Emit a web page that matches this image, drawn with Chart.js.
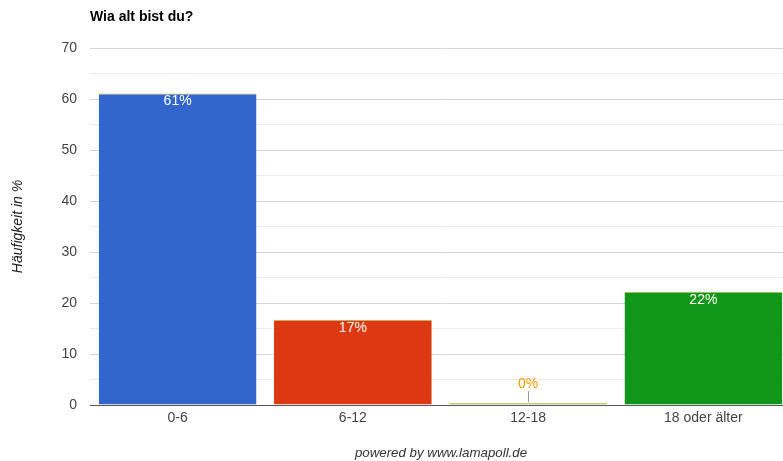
<!DOCTYPE html>
<html>
<head>
<meta charset="utf-8">
<script src="https://cdn.jsdelivr.net/npm/chart.js@4"></script>
<style>
  html, body { margin: 0; padding: 0; background: #fff; overflow: hidden; }
  #wrap { width: 783px; height: 461px; overflow: hidden; }
</style>
</head>
<body>
<div id="wrap"><canvas id="chart" width="800" height="461"></canvas></div>
<script>
// Daten der Umfrage
const categories = ['0-6', '6-12', '12-18', '18 oder älter'];
const shares = [61.1, 16.7, 0, 22.2];

const barColors = ['#3366cc', '#dc3912', '#9aad4a', '#109618'];
const labelColors = ['#ffffff', '#ffffff', '#ff9900', '#ffffff'];
const FONT = '"Liberation Sans", Arial, sans-serif';

// Titel, Fußzeile und Prozentangaben zeichnen
const extraText = {
    id: 'extraText',
    afterDatasetsDraw(chart) {
        const ctx = chart.ctx;
        const meta = chart.getDatasetMeta(0);
        ctx.save();
        ctx.font = '14px ' + FONT;
        ctx.textAlign = 'center';
        ctx.textBaseline = 'middle';
        meta.data.forEach(function (bar, i) {
            const v = shares[i];
            const txt = Math.round(v) + '%';
            if (v > 5) {
                ctx.fillStyle = labelColors[i];
                ctx.fillText(txt, bar.x, bar.y + 8);
            } else {
                ctx.strokeStyle = '#999';
                ctx.lineWidth = 1;
                ctx.beginPath();
                ctx.moveTo(Math.round(bar.x) + 0.5, bar.y - 1);
                ctx.lineTo(Math.round(bar.x) + 0.5, bar.y - 12);
                ctx.stroke();
                ctx.fillStyle = labelColors[i];
                ctx.fillText(txt, bar.x, bar.y - 19);
            }
        });
        ctx.fillStyle = '#000';
        ctx.font = 'bold 14px ' + FONT;
        ctx.textAlign = 'left';
        ctx.fillText('Wia alt bist du?', 90, 17);
        ctx.fillStyle = '#333';
        ctx.font = 'italic 13.3px ' + FONT;
        ctx.textAlign = 'center';
        ctx.fillText('powered by www.lamapoll.de', 441, 453);
        ctx.restore();
    }
};

let ctx = document.getElementById('chart').getContext('2d');

let ageChart = new Chart(ctx, {
    type: 'bar',
    data: {
        labels: categories,
        datasets: [{
            data: shares,
            backgroundColor: barColors,
            borderColor: '#b5c04a',
            borderWidth: { top: 1, left: 0, right: 0, bottom: 0 },
            minBarLength: 2,
            categoryPercentage: 1.0,
            barPercentage: 0.9
        }]
    },
    options: {
        responsive: false,
        animation: false,
        layout: { padding: { top: 48, right: 9, bottom: 0, left: 0 } },
        plugins: {
            legend: { display: false },
            tooltip: { enabled: false }
        },
        scales: {
            x: {
                grid: { display: false, drawTicks: false },
                border: { display: true, color: '#555', width: 1 },
                ticks: { color: '#444', font: { family: FONT, size: 14 }, padding: 5 },
                afterFit: function (scale) { scale.height = 56; }
            },
            y: {
                min: 0,
                max: 70,
                border: { display: false },
                grid: {
                    drawTicks: false,
                    color: function (c) { return c.tick && c.tick.value % 10 === 0 ? '#d6d6d6' : '#ededed'; }
                },
                ticks: {
                    stepSize: 5,
                    autoSkip: false,
                    padding: 13,
                    color: '#444',
                    font: { family: FONT, size: 14 },
                    callback: function (v) { return v % 10 === 0 ? v : ''; }
                },
                title: {
                    display: true,
                    text: 'Häufigkeit in %',
                    color: '#222',
                    font: { family: FONT, size: 14, style: 'italic' },
                    padding: { top: 10, bottom: 0 }
                },
                afterFit: function (scale) { scale.width = 90; }
            }
        }
    },
    plugins: [extraText]
});
</script>
</body>
</html>
